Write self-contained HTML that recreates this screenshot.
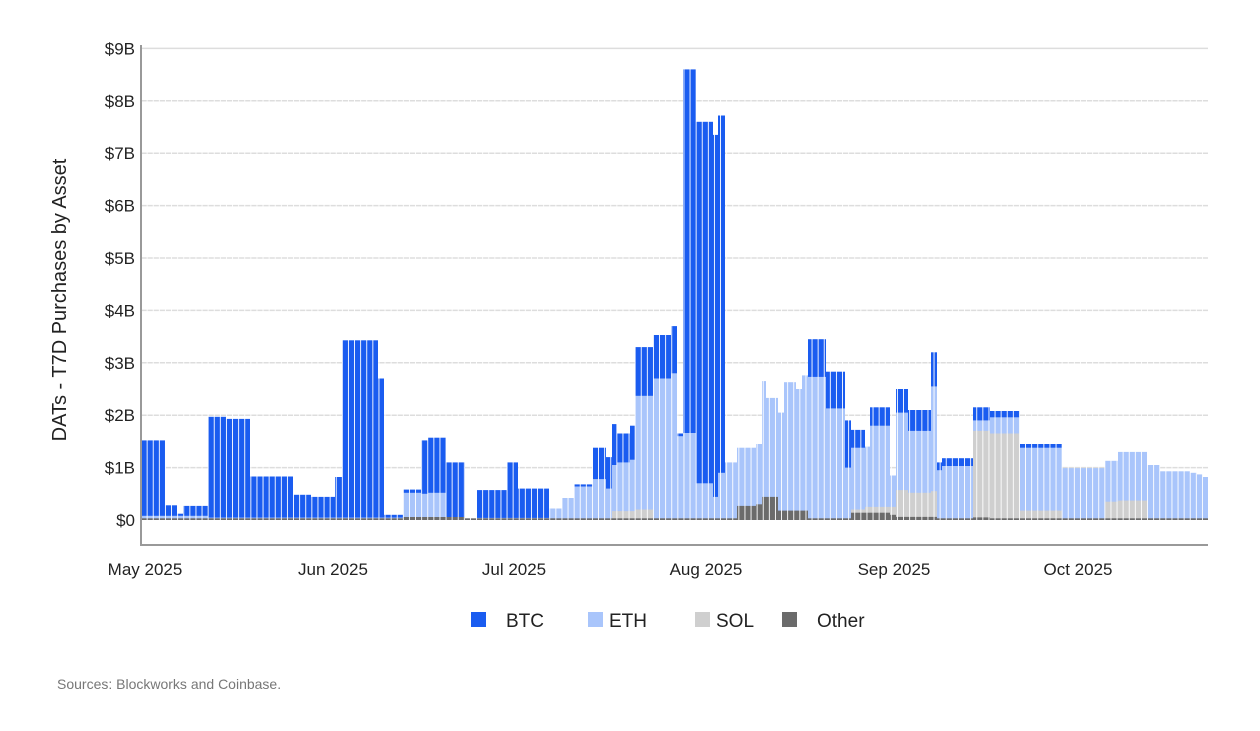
<!DOCTYPE html>
<html><head><meta charset="utf-8">
<style>
body{margin:0;background:#fff;width:1260px;height:726px;overflow:hidden;font-family:"Liberation Sans",Arial,sans-serif;}
svg text{font-family:"Liberation Sans",Arial,sans-serif;}
.b{fill:#1a5cf0}.e{fill:#a9c5fb}.s{fill:#cfcfcf}.o{fill:#6b6b6b}
</style></head>
<body>
<svg width="1260" height="726" xmlns="http://www.w3.org/2000/svg">
<defs>
<pattern id="gap" x="141.5" y="0" width="6.1" height="10" patternUnits="userSpaceOnUse">
<rect x="5.2" y="0" width="0.9" height="10" fill="#fff"/>
</pattern>
</defs>
<g stroke="#ddd" stroke-width="1.5">
<line x1="141" x2="1208" y1="467.6" y2="467.6"/><line x1="141" x2="1208" y1="415.2" y2="415.2"/>
<line x1="141" x2="1208" y1="362.8" y2="362.8"/><line x1="141" x2="1208" y1="310.4" y2="310.4"/>
<line x1="141" x2="1208" y1="258" y2="258"/><line x1="141" x2="1208" y1="205.6" y2="205.6"/>
<line x1="141" x2="1208" y1="153.2" y2="153.2"/><line x1="141" x2="1208" y1="100.8" y2="100.8"/>
<line x1="141" x2="1208" y1="48.4" y2="48.4"/>
</g>
<g>
<!-- BTC layer (total) -->
<rect class="b" x="141" width="24" y="440.4" height="79.6"/>
<rect class="b" x="165" width="12" y="505.3" height="14.7"/>
<rect class="b" x="177" width="6" y="513.7" height="6.3"/>
<rect class="b" x="183" width="25" y="505.9" height="14.1"/>
<rect class="b" x="208" width="18" y="416.8" height="103.2"/>
<rect class="b" x="226" width="24" y="418.9" height="101.1"/>
<rect class="b" x="250" width="43" y="476.5" height="43.5"/>
<rect class="b" x="293" width="18" y="494.8" height="25.2"/>
<rect class="b" x="311" width="24" y="496.9" height="23.1"/>
<rect class="b" x="335" width="7" y="477" height="43"/>
<rect class="b" x="342" width="36" y="340.3" height="179.7"/>
<rect class="b" x="378" width="6" y="378.5" height="141.5"/>
<rect class="b" x="384" width="19" y="514.8" height="5.2"/>
<rect class="b" x="403" width="18" y="489.6" height="30.4"/>
<rect class="b" x="421" width="7" y="440.4" height="79.6"/>
<rect class="b" x="428" width="18" y="437.7" height="82.3"/>
<rect class="b" x="446" width="19" y="462.4" height="57.6"/>
<rect class="b" x="477" width="30" y="490.1" height="29.9"/>
<rect class="b" x="507" width="11" y="462.4" height="57.6"/>
<rect class="b" x="518" width="31" y="488.6" height="31.4"/>
<rect class="b" x="574" width="19" y="484.4" height="35.6"/>
<rect class="b" x="593" width="13" y="447.7" height="72.3"/>
<rect class="b" x="606" width="6" y="457.1" height="62.9"/>
<rect class="b" x="612" width="5" y="424.1" height="95.9"/>
<rect class="b" x="617" width="13" y="433.5" height="86.5"/>
<rect class="b" x="630" width="5" y="425.7" height="94.3"/>
<rect class="b" x="635" width="18" y="347.1" height="172.9"/>
<rect class="b" x="653" width="18" y="335" height="185"/>
<rect class="b" x="671" width="6" y="326.1" height="193.9"/>
<rect class="b" x="677" width="6" y="433.5" height="86.5"/>
<rect class="b" x="683" width="13" y="69.4" height="450.6"/>
<rect class="b" x="696" width="17" y="121.8" height="398.2"/>
<rect class="b" x="713" width="5" y="134.9" height="385.1"/>
<rect class="b" x="718" width="7" y="115.5" height="404.5"/>
<rect class="b" x="808" width="18" y="339.2" height="180.8"/>
<rect class="b" x="826" width="19" y="371.7" height="148.3"/>
<rect class="b" x="845" width="6" y="420.4" height="99.6"/>
<rect class="b" x="851" width="14" y="429.9" height="90.1"/>
<rect class="b" x="870" width="20" y="407.3" height="112.7"/>
<rect class="b" x="896" width="12" y="389" height="131"/>
<rect class="b" x="908" width="23" y="410" height="110"/>
<rect class="b" x="931" width="6" y="352.3" height="167.7"/>
<rect class="b" x="937" width="5" y="462.4" height="57.6"/>
<rect class="b" x="942" width="31" y="458.2" height="61.8"/>
<rect class="b" x="973" width="17" y="407.3" height="112.7"/>
<rect class="b" x="990" width="30" y="411" height="109"/>
<rect class="b" x="1020" width="42" y="444" height="76"/>
<!-- ETH layer -->
<rect class="e" x="141" width="67" y="515.8" height="4.2"/>
<rect class="e" x="208" width="195" y="517.6" height="2.4"/>
<rect class="e" x="403" width="18" y="492.8" height="27.2"/>
<rect class="e" x="421" width="7" y="493.8" height="26.2"/>
<rect class="e" x="428" width="18" y="492.8" height="27.2"/>
<rect class="e" x="477" width="72" y="517.9" height="2.1"/>
<rect class="e" x="549" width="13" y="508.5" height="11.5"/>
<rect class="e" x="562" width="12" y="498" height="22"/>
<rect class="e" x="574" width="19" y="486.5" height="33.5"/>
<rect class="e" x="593" width="13" y="479.1" height="40.9"/>
<rect class="e" x="606" width="6" y="488.6" height="31.4"/>
<rect class="e" x="612" width="5" y="465" height="55"/>
<rect class="e" x="617" width="13" y="462.4" height="57.6"/>
<rect class="e" x="630" width="5" y="459.7" height="60.3"/>
<rect class="e" x="635" width="18" y="395.8" height="124.2"/>
<rect class="e" x="653" width="18" y="378.5" height="141.5"/>
<rect class="e" x="671" width="6" y="373.3" height="146.7"/>
<rect class="e" x="677" width="6" y="436.2" height="83.8"/>
<rect class="e" x="683" width="13" y="433" height="87"/>
<rect class="e" x="696" width="17" y="483.3" height="36.7"/>
<rect class="e" x="713" width="5" y="496.9" height="23.1"/>
<rect class="e" x="718" width="7" y="472.8" height="47.2"/>
<rect class="e" x="725" width="12" y="462.4" height="57.6"/>
<rect class="e" x="737" width="19" y="447.7" height="72.3"/>
<rect class="e" x="756" width="6" y="444" height="76"/>
<rect class="e" x="762" width="4" y="381.1" height="138.9"/>
<rect class="e" x="766" width="12" y="397.9" height="122.1"/>
<rect class="e" x="778" width="6" y="412.6" height="107.4"/>
<rect class="e" x="784" width="12" y="382.2" height="137.8"/>
<rect class="e" x="796" width="6" y="389" height="131"/>
<rect class="e" x="802" width="6" y="375.4" height="144.6"/>
<rect class="e" x="808" width="18" y="376.9" height="143.1"/>
<rect class="e" x="826" width="19" y="408.4" height="111.6"/>
<rect class="e" x="845" width="6" y="467.6" height="52.4"/>
<rect class="e" x="851" width="14" y="447.7" height="72.3"/>
<rect class="e" x="865" width="5" y="446.6" height="73.4"/>
<rect class="e" x="870" width="20" y="425.7" height="94.3"/>
<rect class="e" x="890" width="6" y="475.5" height="44.5"/>
<rect class="e" x="896" width="12" y="412.6" height="107.4"/>
<rect class="e" x="908" width="23" y="430.9" height="89.1"/>
<rect class="e" x="931" width="6" y="386.4" height="133.6"/>
<rect class="e" x="937" width="5" y="470.2" height="49.8"/>
<rect class="e" x="942" width="31" y="466" height="54"/>
<rect class="e" x="973" width="17" y="420.4" height="99.6"/>
<rect class="e" x="990" width="30" y="417.3" height="102.7"/>
<rect class="e" x="1020" width="42" y="447.7" height="72.3"/>
<rect class="e" x="1062" width="43" y="468.1" height="51.9"/>
<rect class="e" x="1105" width="13" y="460.8" height="59.2"/>
<rect class="e" x="1118" width="29" y="451.9" height="68.1"/>
<rect class="e" x="1147" width="13" y="465" height="55"/>
<rect class="e" x="1160" width="30" y="471.3" height="48.7"/>
<rect class="e" x="1190" width="7" y="472.8" height="47.2"/>
<rect class="e" x="1197" width="6" y="474.4" height="45.6"/>
<rect class="e" x="1203" width="5" y="477" height="43"/>
<!-- SOL layer -->
<rect class="s" x="612" width="23" y="511.1" height="8.9"/>
<rect class="s" x="635" width="18" y="509.5" height="10.5"/>
<rect class="s" x="851" width="14" y="509.5" height="10.5"/>
<rect class="s" x="865" width="31" y="506.9" height="13.1"/>
<rect class="s" x="896" width="12" y="490.1" height="29.9"/>
<rect class="s" x="908" width="23" y="492.8" height="27.2"/>
<rect class="s" x="931" width="6" y="491.2" height="28.8"/>
<rect class="s" x="973" width="17" y="430.9" height="89.1"/>
<rect class="s" x="990" width="30" y="433.5" height="86.5"/>
<rect class="s" x="1020" width="42" y="510.6" height="9.4"/>
<rect class="s" x="1105" width="13" y="501.7" height="18.3"/>
<rect class="s" x="1118" width="29" y="500.6" height="19.4"/>
<!-- Other layer -->
<rect class="o" x="141" width="1067" y="518.3" height="1.7"/>
<rect class="o" x="403" width="62" y="517" height="3"/>
<rect class="o" x="737" width="19" y="505.9" height="14.1"/>
<rect class="o" x="756" width="6" y="504.3" height="15.7"/>
<rect class="o" x="762" width="16" y="496.9" height="23.1"/>
<rect class="o" x="778" width="30" y="510.6" height="9.4"/>
<rect class="o" x="851" width="39" y="512.7" height="7.3"/>
<rect class="o" x="890" width="6" y="514.8" height="5.2"/>
<rect class="o" x="896" width="41" y="516.9" height="3.1"/>
<rect class="o" x="973" width="17" y="517.4" height="2.6"/>
</g>
<rect x="141" y="60" width="1067" height="460" fill="url(#gap)"/>
<line x1="141" y1="45" x2="141" y2="546" stroke="#999" stroke-width="2"/>
<line x1="141" y1="545" x2="1208" y2="545" stroke="#999" stroke-width="2"/>
<g font-size="17" fill="#222" text-anchor="end">
<text x="135" y="526">$0</text><text x="135" y="473.6">$1B</text><text x="135" y="421.2">$2B</text>
<text x="135" y="368.8">$3B</text><text x="135" y="316.4">$4B</text><text x="135" y="264">$5B</text>
<text x="135" y="211.6">$6B</text><text x="135" y="159.2">$7B</text><text x="135" y="106.8">$8B</text>
<text x="135" y="54.4">$9B</text>
</g>
<text transform="translate(66,300) rotate(-90)" font-size="20" fill="#222" text-anchor="middle">DATs - T7D Purchases by Asset</text>
<g font-size="17" fill="#222" text-anchor="middle">
<text x="145" y="575">May 2025</text>
<text x="333" y="575">Jun 2025</text>
<text x="514" y="575">Jul 2025</text>
<text x="706" y="575">Aug 2025</text>
<text x="894" y="575">Sep 2025</text>
<text x="1078" y="575">Oct 2025</text>
</g>
<g font-size="19" fill="#222">
<rect x="471" y="612" width="15" height="15" fill="#1a5cf0"/><text x="506" y="627">BTC</text>
<rect x="588" y="612" width="15" height="15" fill="#a9c5fb"/><text x="609" y="627">ETH</text>
<rect x="695" y="612" width="15" height="15" fill="#cfcfcf"/><text x="716" y="627">SOL</text>
<rect x="782" y="612" width="15" height="15" fill="#6b6b6b"/><text x="817" y="627">Other</text>
</g>
<text x="57" y="689" font-size="14" fill="#777">Sources: Blockworks and Coinbase.</text>
</svg>
</body></html>
